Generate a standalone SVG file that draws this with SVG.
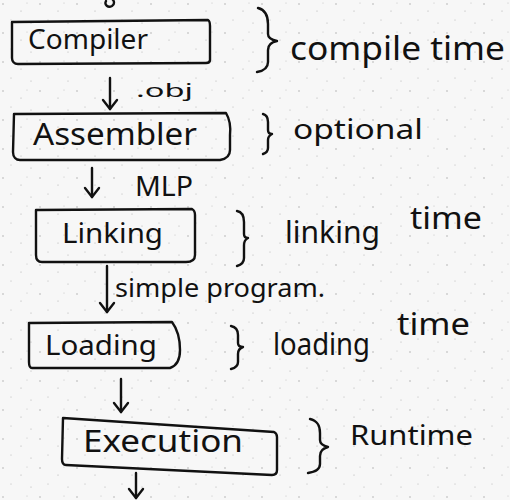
<svg xmlns="http://www.w3.org/2000/svg" width="510" height="500" viewBox="0 0 510 500">
<defs>
<pattern id="paper" width="37" height="29" patternUnits="userSpaceOnUse">
<circle cx="3" cy="4" r="0.7" fill="#a0a0a0"/>
<circle cx="21" cy="11" r="0.6" fill="#ababab"/>
<circle cx="31" cy="23" r="0.6" fill="#b0b0b0"/>
<circle cx="11" cy="20" r="0.5" fill="#a6a6a6"/>
<circle cx="27" cy="3" r="0.5" fill="#b4b4b4"/>
</pattern>
<marker id="head" viewBox="-12 -10 14 20" markerWidth="14" markerHeight="20" refX="0" refY="0" orient="auto" markerUnits="userSpaceOnUse">
<path d="M-9,-7 L0,0 L-9,7" fill="none" stroke="#111" stroke-width="2.4" stroke-linecap="round" stroke-linejoin="round"/>
</marker>
</defs>
<style>
.ink{fill:none;stroke:#111;stroke-width:2.4;stroke-linecap:round;stroke-linejoin:round}
.t{font-family:"Noto Sans","DejaVu Sans",sans-serif;fill:#111}
</style>
<rect width="510" height="500" fill="#f7f7f7"/>
<rect width="510" height="500" fill="url(#paper)"/>
<path class="ink" d="M106,1 C104,5 108,8 112,6 C115,4 114,1 113,0"/>

<g id="compiler">
<path class="ink" d="M12,22 L208,20 C210,21 210,23 210,26 L210,60 C210,62 208,63 206,63 L18,64 C14,64 12,61 12,58 Z"/>
<text class="t" x="28" y="49" font-size="27" textLength="120" lengthAdjust="spacingAndGlyphs">Compiler</text>
</g>
<g id="compile-time">
<path class="ink" d="M258,8 C266,10 268,16 268,24 L268,34 C268,38 272,40 277,41 C272,42 268,45 268,50 L268,62 C268,68 263,71 257,72"/>
<text class="t" x="290" y="60" font-size="32" textLength="215" lengthAdjust="spacingAndGlyphs">compile time</text>
</g>

<g id="assembler">
<path class="ink" d="M14,114 L226,113 C229,118 231,125 230,135 L230,150 C230,156 226,159 220,160 L20,160 C16,160 13,157 13,152 Z"/>
<text class="t" x="33" y="145" font-size="30" textLength="164" lengthAdjust="spacingAndGlyphs">Assembler</text>
</g>
<g id="optional">
<path class="ink" d="M263,114 C267,115 268,118 268,122 L268,130 C268,133 270,134 272,134 C270,135 268,137 268,140 L268,148 C268,151 266,153 263,154"/>
<text class="t" x="293" y="139" font-size="28" textLength="130" lengthAdjust="spacingAndGlyphs">optional</text>
</g>

<g id="linking">
<path class="ink" d="M36,210 L192,209 C194,210 195,212 195,215 L195,255 C195,260 191,262 186,262 L42,262 C38,262 36,259 36,255 Z"/>
<text class="t" x="62" y="243" font-size="28" textLength="101" lengthAdjust="spacingAndGlyphs">Linking</text>
</g>
<g id="linking-time">
<path class="ink" d="M237,211 C242,212 244,216 244,222 L244,234 C244,237 246,238 248,238 C246,239 244,241 244,245 L244,258 C244,262 241,265 237,266"/>
<text class="t" font-size="30"><tspan x="285" y="243" textLength="95" lengthAdjust="spacingAndGlyphs">linking</tspan><tspan x="410" y="229" textLength="72" lengthAdjust="spacingAndGlyphs">time</tspan></text>
</g>

<g id="loading">
<path class="ink" d="M29,323 L172,322 C178,330 180,340 180,350 C180,360 176,366 170,368 L32,368 C30,368 29,366 29,362 Z"/>
<text class="t" x="45" y="355" font-size="28" textLength="112" lengthAdjust="spacingAndGlyphs">Loading</text>
</g>
<g id="loading-time">
<path class="ink" d="M231,326 C236,327 238,330 238,335 L238,343 C238,346 240,347 243,347 C240,348 238,350 238,354 L238,362 C238,366 235,368 231,369"/>
<text class="t" font-size="30"><tspan x="273" y="355" textLength="97" lengthAdjust="spacingAndGlyphs">loading</tspan><tspan x="397" y="335" textLength="73" lengthAdjust="spacingAndGlyphs">time</tspan></text>
</g>

<g id="execution">
<path class="ink" d="M63,418 L274,432 C276,433 277,434 277,437 L277,470 C277,473 275,475 272,475 L66,465 C63,465 62,462 62,459 Z"/>
<text class="t" x="83" y="452" font-size="30" textLength="160" lengthAdjust="spacingAndGlyphs">Execution</text>
</g>
<g id="runtime">
<path class="ink" d="M310,419 C318,421 320,426 320,433 L320,440 C320,444 324,446 328,447 C324,448 320,451 320,456 L320,464 C320,469 315,472 308,473"/>
<text class="t" x="350" y="445" font-size="28" textLength="123" lengthAdjust="spacingAndGlyphs">Runtime</text>
</g>

<g id="connectors">
<path class="ink" d="M110,78 L110,109" marker-end="url(#head)"/>
<path class="ink" d="M92,168 L92,197" marker-end="url(#head)"/>
<path class="ink" d="M107,266 L107,312" marker-end="url(#head)"/>
<path class="ink" d="M121,379 L121,412" marker-end="url(#head)"/>
<path class="ink" d="M136,473 L136,498" marker-end="url(#head)"/>
<text class="t" x="136" y="97" font-size="18" textLength="57" lengthAdjust="spacingAndGlyphs">.obj</text>
<text class="t" x="135" y="196" font-size="28" textLength="58" lengthAdjust="spacingAndGlyphs">MLP</text>
<text class="t" x="115" y="297" font-size="26" textLength="210" lengthAdjust="spacingAndGlyphs">simple program.</text>
</g>
</svg>
